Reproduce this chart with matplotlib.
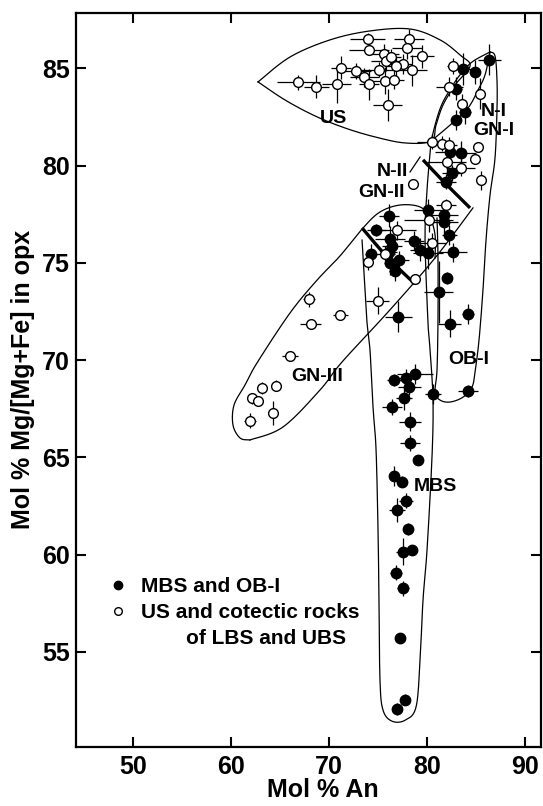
import numpy as np
import matplotlib
matplotlib.use('Agg')
import matplotlib.pyplot as plt
from matplotlib.lines import Line2D

plt.rcParams['font.family'] = ['Liberation Sans', 'DejaVu Sans']
plt.rcParams['font.weight'] = 'bold'

# open circles: US and cotectic rocks of LBS and UBS (x, y, xerr, yerr)
open_x = [66.87, 68.72, 70.77, 71.22, 72.76, 73.93, 74.08, 73.60, 74.11, 75.06, 75.61,
          75.82, 76.33, 75.71, 76.63, 75.97, 78.16, 77.96, 77.50, 78.45, 79.49, 76.84,
          82.68, 82.27, 85.41, 83.54, 80.48, 81.50, 82.28, 85.23, 84.90, 82.01, 83.44,
          85.46, 78.60, 81.94, 80.18, 76.91, 80.48, 75.71, 73.96, 78.74, 74.95,
          67.94, 71.16, 68.13, 66.02, 64.54, 63.18, 62.11, 62.79, 64.27, 61.94]
open_y = [84.28, 84.05, 84.19, 85.03, 84.87, 86.51, 85.96, 84.53, 84.17, 84.93, 85.74,
          85.38, 85.58, 84.37, 84.42, 83.11, 86.50, 86.06, 85.23, 84.90, 85.62, 85.12,
          85.12, 84.05, 83.69, 83.16, 81.23, 81.13, 81.07, 80.97, 80.35, 80.16, 79.87,
          79.24, 79.03, 77.97, 77.20, 76.67, 76.03, 75.45, 75.03, 74.15, 73.06,
          73.12, 72.32, 71.85, 70.21, 68.69, 68.55, 68.03, 67.91, 67.28, 66.89]
open_xerr = [2.2, 1.3, 1.5, 1.0, 1.5, 1.8, 2.0, 1.5, 1.0, 2.0, 1.5,
             1.5, 1.0, 1.2, 1.0, 1.5, 1.5, 1.5, 1.0, 1.5, 1.2, 1.0,
             0.6, 1.4, 0.5, 0.5, 1.5, 1.0, 0.8, 0.0, 0.5, 2.0, 1.5,
             0.5, 0.3, 1.0, 2.5, 2.0, 1.5, 1.0, 0.5, 0.5, 1.2,
             0.6, 0.8, 1.1, 0.8, 0.3, 0.3, 0.4, 0.3, 0.3, 0.6]
open_yerr = [0.4, 0.6, 1.0, 0.6, 0.4, 0.3, 0.3, 0.5, 0.8, 0.4, 0.5,
             0.5, 0.4, 0.7, 0.5, 0.8, 0.5, 0.6, 0.5, 0.8, 0.6, 0.5,
             0.4, 0.5, 0.8, 0.5, 0.4, 0.4, 0.4, 0.0, 0.0, 0.5, 0.4,
             0.5, 0.0, 0.3, 0.6, 0.5, 0.5, 0.4, 0.4, 0.2, 0.7,
             0.4, 0.0, 0.0, 0.0, 0.3, 0.3, 0.3, 0.2, 0.6, 0.4]

# filled circles: MBS and OB-I
fill_x = [83.70, 84.85, 86.36, 82.92, 83.88, 82.91, 82.35, 83.50, 82.53, 81.94,
          80.13, 81.70, 76.10, 81.70, 74.84, 76.22, 76.43, 76.12, 78.67, 82.28,
          79.29, 80.08, 82.62, 74.27, 76.22, 77.17, 76.73, 82.01, 81.20, 77.07,
          84.21, 82.31,
          78.78, 77.86, 76.68, 78.19, 77.65, 76.45, 80.58, 84.21, 78.27, 78.27,
          79.08, 76.66, 77.42, 77.86, 76.91, 78.09, 77.52, 78.44, 76.84, 77.58,
          77.24, 77.76, 76.94]
fill_y = [84.96, 84.81, 85.43, 83.96, 82.75, 82.34, 80.67, 80.66, 79.63, 79.17,
          77.69, 77.48, 77.43, 77.11, 76.67, 76.21, 75.86, 75.56, 76.14, 76.43,
          75.67, 75.49, 75.54, 75.45, 74.97, 75.13, 74.58, 74.20, 73.49, 72.23,
          72.36, 71.87,
          69.28, 69.06, 68.97, 68.61, 68.03, 67.59, 68.25, 68.42, 66.83, 65.73,
          64.86, 64.04, 63.75, 62.77, 62.29, 61.30, 60.15, 60.23, 59.07, 58.26,
          55.70, 52.54, 52.07]
fill_xerr = [1.0, 0.5, 1.2, 0.6, 0.6, 0.5, 1.5, 1.5, 1.0, 1.0,
             1.5, 1.5, 1.0, 1.5, 1.0, 1.5, 1.0, 0.8, 1.0, 0.8,
             1.0, 1.5, 1.5, 0.6, 0.6, 1.0, 0.6, 0.3, 1.5, 1.4,
             0.6, 1.2,
             1.8, 1.0, 0.8, 1.2, 0.8, 1.0, 0.8, 1.0, 1.1, 1.0,
             0.5, 0.4, 0.3, 0.7, 0.8, 0.2, 0.7, 0.3, 0.6, 0.6,
             0.2, 0.5, 0.4]
fill_yerr = [0.8, 0.6, 0.8, 0.6, 0.6, 0.5, 0.6, 0.6, 0.4, 0.4,
             0.6, 0.6, 0.6, 0.6, 0.3, 0.7, 0.6, 0.5, 0.5, 0.5,
             0.6, 0.8, 0.5, 0.5, 0.6, 0.5, 0.5, 0.3, 1.6, 0.8,
             0.5, 0.7,
             0.5, 0.5, 0.3, 0.4, 0.6, 0.4, 0.5, 0.3, 0.5, 0.4,
             0.2, 0.5, 0.3, 0.4, 0.6, 0.3, 0.7, 0.2, 0.4, 0.4,
             0.2, 0.3, 0.3]

# field outlines (data coords)
us_env = [(62.76, 84.30), (66.02, 85.58), (70.10, 86.46), (74.18, 86.92), (78.27, 87.02),
          (81.33, 86.46), (83.37, 85.68), (84.39, 85.12), (82.86, 84.14), (81.63, 83.11),
          (80.92, 82.08), (80.41, 81.26), (77.76, 81.16), (74.69, 81.47), (71.63, 81.93),
          (68.57, 82.55), (65.51, 83.37), (62.76, 84.30)]
ni_left = [(80.41, 81.26), (81.02, 82.44), (81.63, 83.27), (82.65, 84.14), (83.37, 84.66),
           (84.59, 85.32), (86.43, 85.84)]
ni_right = [(80.41, 81.26), (82.35, 82.08), (84.18, 82.96), (85.20, 83.88), (85.92, 84.66),
            (86.43, 85.84)]
gn1_env = [(86.43, 85.84), (86.94, 85.63), (87.14, 84.40), (87.14, 82.86), (86.94, 80.39),
           (86.43, 78.49), (86.02, 76.17), (85.71, 73.60), (85.31, 71.04), (84.90, 69.39),
           (84.59, 68.61), (83.67, 68.09), (82.35, 67.84), (81.33, 67.94), (80.82, 68.35),
           (81.02, 69.49), (81.12, 72.06), (81.12, 75.25), (81.02, 77.30)]
gn3_env = [(61.94, 65.89), (60.92, 65.99), (60.20, 66.66), (60.31, 67.69), (61.43, 68.72),
           (62.65, 69.85), (66.02, 72.42), (68.78, 74.11), (71.12, 75.35), (73.47, 76.79),
           (75.20, 77.61), (77.24, 77.97), (79.29, 77.87), (80.31, 77.30), (80.82, 76.43),
           (80.82, 75.25)]
gn3_line = [(61.94, 65.89), (65.31, 66.56), (69.08, 68.46), (71.33, 69.90), (76.22, 72.58),
            (80.82, 75.25), (84.69, 77.82)]
mbs_env = [(73.37, 76.17), (73.67, 73.60), (73.88, 71.91), (74.18, 70.52), (74.49, 67.58),
           (74.80, 65.38), (75.00, 61.27), (75.10, 57.66), (75.20, 53.54), (75.51, 52.00),
           (76.43, 51.43), (77.76, 51.48), (78.88, 52.16), (79.29, 54.58), (79.59, 57.66),
           (80.00, 60.23), (80.51, 65.02), (80.61, 67.94), (80.31, 70.52), (80.10, 71.91),
           (79.80, 76.17), (80.00, 78.74), (80.41, 81.21)]
bold1 = [(79.59, 80.29), (81.84, 79.10), (84.39, 77.82)]
bold2 = [(73.37, 76.79), (76.02, 75.25), (78.78, 73.91)]
nii_tick = [(78.27, 79.67), (79.29, 80.44)]

field_names = ['US', 'N-I', 'GN-I', 'N-II', 'GN-II', 'GN-III', 'OB-I', 'MBS']
field_pos = [(70.44, 82.41), (86.84, 82.77), (86.84, 81.79), (76.46, 79.68),
             (75.34, 78.60), (68.81, 69.14), (84.29, 70.04), (80.82, 63.52)]


def smooth(pts, n=16):
    # catmull-rom through the given points
    p = np.array(pts, dtype=float)
    p = np.vstack([p[0], p, p[-1]])
    out = []
    t = np.linspace(0, 1, n, endpoint=False)[:, None]
    for i in range(1, len(p) - 2):
        p0, p1, p2, p3 = p[i - 1], p[i], p[i + 1], p[i + 2]
        seg = 0.5 * ((2 * p1) + (-p0 + p2) * t + (2 * p0 - 5 * p1 + 4 * p2 - p3) * t ** 2
                     + (-p0 + 3 * p1 - 3 * p2 + p3) * t ** 3)
        out.append(seg)
    out.append(p[-2][None, :])
    out = np.vstack(out)
    return out[:, 0], out[:, 1]


fig = plt.figure(figsize=(5.43, 8.06), dpi=100)
ax = fig.add_axes([0.1394, 0.0736, 0.8569, 0.9107])

for env in [us_env, ni_left, ni_right, gn1_env, gn3_env, gn3_line, mbs_env, nii_tick]:
    ex, ey = smooth(env)
    ax.plot(ex, ey, color='k', lw=0.9, zorder=1)
for env in [bold1, bold2]:
    ex, ey = smooth(env)
    ax.plot(ex, ey, color='k', lw=2.4, zorder=1, solid_capstyle='butt')

ax.errorbar(fill_x, fill_y, xerr=fill_xerr, yerr=fill_yerr, fmt='none',
            ecolor='k', elinewidth=0.9, capsize=0, zorder=2)
ax.errorbar(open_x, open_y, xerr=open_xerr, yerr=open_yerr, fmt='none',
            ecolor='k', elinewidth=0.9, capsize=0, zorder=2)
ax.plot(fill_x, fill_y, ls='none', marker='o', ms=7.5, mfc='k', mec='k', zorder=3)
ax.plot(open_x, open_y, ls='none', marker='o', ms=7, mfc='w', mec='k', mew=1.0, zorder=4)

for name, (tx, ty) in zip(field_names, field_pos):
    ax.text(tx, ty, name, fontsize=14, fontweight='bold', ha='center', va='center',
            zorder=5)

ax.set_xlim(44.15, 91.63)
ax.set_ylim(50.12, 87.86)
ax.set_xticks([50, 60, 70, 80, 90])
ax.set_yticks([55, 60, 65, 70, 75, 80, 85])
ax.tick_params(direction='in', length=7, width=1.5, labelsize=18, top=True, right=True)
ax.tick_params(axis='y', pad=4)
ax.tick_params(axis='x', pad=6)
for s in ax.spines.values():
    s.set_linewidth(1.6)

ax.set_xlabel('Mol % An', fontsize=18, fontweight='bold')
ax.set_ylabel('Mol % Mg/[Mg+Fe] in opx', fontsize=18, fontweight='bold')
ax.xaxis.set_label_coords(0.531, -0.042)
ax.yaxis.set_label_coords(-0.088, 0.5)

h1 = Line2D([], [], ls='none', marker='o', ms=6, mfc='k', mec='k')
h2 = Line2D([], [], ls='none', marker='o', ms=5.5, mfc='w', mec='k', mew=1.0)
ax.legend([h1, h2], ['MBS and OB-I', 'US and cotectic rocks'], loc='upper left',
          bbox_to_anchor=(0.0686, 0.231), frameon=False, prop={'size': 15, 'weight': 'bold'},
          handlelength=1.0, handletextpad=0.6, borderpad=0, borderaxespad=0,
          labelspacing=0.35)
ax.text(55.41, 55.66, 'of LBS and UBS', fontsize=15, fontweight='bold', va='center')

plt.savefig('out.png', dpi=100)
